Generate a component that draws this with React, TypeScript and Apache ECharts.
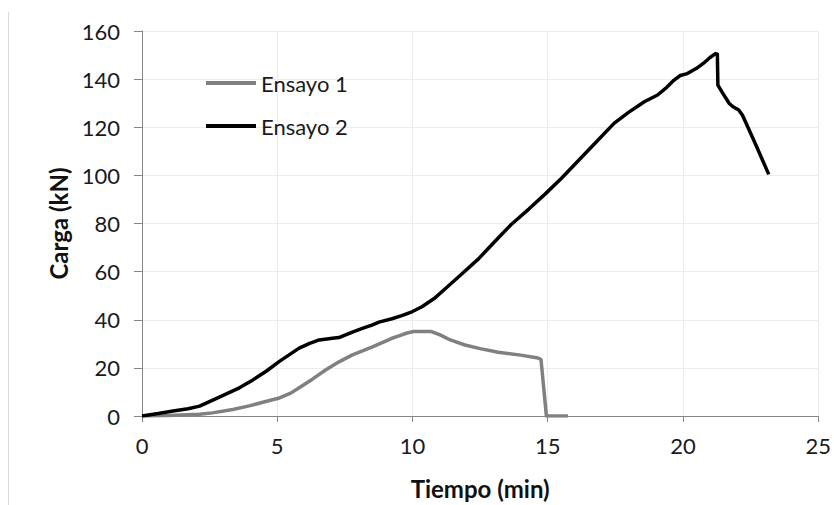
import React, { useEffect, useRef } from "react";
import * as echarts from "echarts";

const seriesNames = ["Ensayo 1", "Ensayo 2"];

const ensayo1X = [0, 1, 2.13, 2.6, 3.36, 4, 4.5, 5.08, 5.5, 5.81, 6.3, 6.8, 7.3, 7.78, 8.5, 9.24, 9.5, 9.8, 10.04, 10.7, 11.0, 11.4, 11.94, 12.5, 13.17, 14.0, 14.64, 14.75, 14.95, 15.75];
const ensayo1Y = [0, 0.2, 0.7, 1.3, 2.7, 4.3, 5.8, 7.5, 9.5, 11.7, 15.3, 19.2, 22.6, 25.4, 28.6, 32.3, 33.3, 34.5, 35.1, 35.1, 33.8, 31.6, 29.5, 28.0, 26.5, 25.3, 24.1, 23.5, 0, 0];

const ensayo2X = [0, 0.6, 1.15, 1.7, 2.13, 2.8, 3.6, 4.1, 4.59, 5.08, 5.81, 6.2, 6.55, 7.04, 7.28, 7.8, 8.2, 8.5, 8.76, 9.24, 9.6, 9.98, 10.35, 10.8, 11.21, 11.8, 12.44, 13.0, 13.66, 14.3, 14.89, 15.5, 16.11, 16.8, 17.46, 18.0, 18.57, 19.06, 19.4, 19.67, 19.9, 20.16, 20.5, 20.8, 21.0, 21.2, 21.27, 21.29, 21.45, 21.63, 21.7, 21.85, 22.06, 22.2, 22.7, 23.17];
const ensayo2Y = [0, 1.0, 2.1, 3.0, 4.1, 7.5, 11.7, 15.0, 18.6, 22.7, 28.2, 30.2, 31.6, 32.3, 32.6, 35.0, 36.6, 37.8, 39.0, 40.4, 41.7, 43.3, 45.4, 48.8, 52.9, 58.8, 65.3, 72.0, 79.7, 86.0, 92.1, 98.7, 105.9, 114.0, 121.7, 126.3, 130.6, 133.4, 136.6, 139.6, 141.5, 142.3, 144.5, 147.0, 149.0, 150.6, 150.4, 137.5, 134.5, 131.3, 130.0, 128.5, 127.2, 125.0, 112.5, 100.4];

const xTicks = { min: 0, max: 25, interval: 5 };
const yTicks = { min: 0, max: 160, interval: 20 };

const FONT = "Lato, 'Open Sans', sans-serif";

export default function App() {
  const ref = useRef<HTMLDivElement>(null);
  useEffect(() => {
    if (!ref.current) return;
    const chart = echarts.init(ref.current, undefined, { renderer: "svg" });
    const d1 = ensayo1X.map((x, i) => [x, ensayo1Y[i]]);
    const d2 = ensayo2X.map((x, i) => [x, ensayo2Y[i]]);
    chart.setOption({
      animation: false,
      backgroundColor: "#ffffff",
      textStyle: { fontFamily: FONT },
      grid: { left: 142, right: 12, top: 31, bottom: 87, containLabel: false },
      legend: {
        orient: "vertical",
        left: 206,
        top: 72,
        padding: 0,
        itemWidth: 50,
        itemHeight: 4,
        itemGap: 21,
        icon: "rect",
        textStyle: { fontFamily: FONT, fontSize: 22, color: "#1a1a1a" },
        data: seriesNames,
      },
      graphic: [
        {
          type: "line",
          shape: { x1: 8.5, y1: 12, x2: 8.5, y2: 505 },
          style: { stroke: "#d9d9d9", lineWidth: 1 },
        },
      ],
      xAxis: {
        type: "value",
        min: xTicks.min,
        max: xTicks.max,
        interval: xTicks.interval,
        name: "Tiempo (min)",
        nameLocation: "middle",
        nameGap: 60,
        nameTextStyle: { fontFamily: FONT, fontSize: 24, fontWeight: "bold", color: "#111" },
        axisLine: { show: true, lineStyle: { color: "#868686", width: 1 } },
        axisTick: { show: true, length: 6, lineStyle: { color: "#868686" } },
        axisLabel: { margin: 18, fontSize: 22, color: "#1a1a1a", fontFamily: FONT },
        splitLine: { show: true, lineStyle: { color: "#ececec", width: 1 } },
      },
      yAxis: {
        type: "value",
        min: yTicks.min,
        max: yTicks.max,
        interval: yTicks.interval,
        name: "Carga (kN)",
        nameLocation: "middle",
        nameGap: 72,
        nameTextStyle: { fontFamily: FONT, fontSize: 24, fontWeight: "bold", color: "#111" },
        axisLine: { show: true, lineStyle: { color: "#868686", width: 1 } },
        axisTick: { show: true, length: 8, lineStyle: { color: "#868686" } },
        axisLabel: { margin: 22, fontSize: 22, color: "#1a1a1a", fontFamily: FONT },
        splitLine: { show: true, lineStyle: { color: "#ececec", width: 1 } },
      },
      series: [
        {
          name: seriesNames[0],
          type: "line",
          data: d1,
          showSymbol: false,
          symbol: "none",
          lineStyle: { color: "#808080", width: 3.5, join: "round" },
          itemStyle: { color: "#808080" },
          z: 2,
        },
        {
          name: seriesNames[1],
          type: "line",
          data: d2,
          showSymbol: false,
          symbol: "none",
          lineStyle: { color: "#000000", width: 3.5, join: "round" },
          itemStyle: { color: "#000000" },
          z: 3,
        },
      ],
    });
    return () => chart.dispose();
  }, []);
  return (
    <div
      ref={ref}
      style={{ position: "fixed", left: 0, top: 0, width: 834, height: 505, background: "#fff" }}
    />
  );
}
